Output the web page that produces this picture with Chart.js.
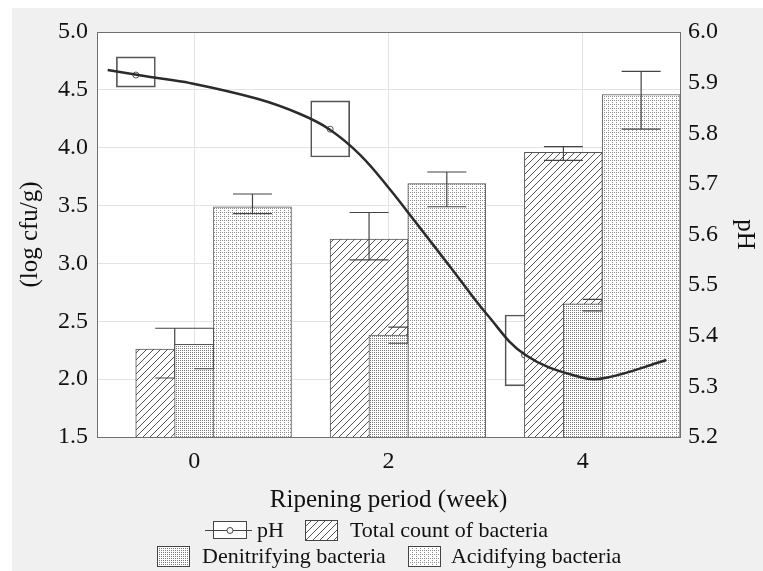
<!DOCTYPE html>
<html>
<head>
<meta charset="utf-8">
<script src="https://cdn.jsdelivr.net/npm/chart.js@4.4.0/dist/chart.umd.min.js"></script>
<style>
  html, body { margin: 0; padding: 0; background: #fff; }
  body { width: 763px; height: 571px; position: relative; overflow: hidden;
         font-family: "Liberation Serif", "Times New Roman", serif; }
  #panel { position: absolute; left: 12px; top: 8px; width: 751px; height: 563px; background: #f0f0f0; }
  #chart { position: absolute; left: 0; top: 0; }
  .legend-row { position: absolute; height: 26px; display: flex; align-items: center;
                font-size: 22px; color: #111; white-space: nowrap; }
  .legend-row canvas { display: block; }
</style>
</head>
<body>
<div id="panel">
  <canvas id="chart" width="751" height="510"></canvas>
  <div class="legend-row" style="left:193px; top:509px">
    <canvas id="swPh" width="47" height="20"></canvas><span style="margin-left:5px">pH</span>
    <canvas id="swTotal" width="33" height="21" style="margin-left:21px"></canvas><span style="margin-left:12px">Total count of bacteria</span>
  </div>
  <div class="legend-row" style="left:145px; top:535px">
    <canvas id="swDenit" width="33" height="21"></canvas><span style="margin-left:12px">Denitrifying bacteria</span>
    <canvas id="swAcid" width="33" height="21" style="margin-left:22px"></canvas><span style="margin-left:10px">Acidifying bacteria</span>
  </div>
</div>
<script>
// ripening weeks
const weeks = [0, 2, 4];

// bacteria counts (log cfu/g) with error bar ends
const totalCount = [2.26, 3.21, 3.96];
const totalUpper = [2.44, 3.44, 4.01];
const totalLower = [2.01, 3.03, 3.89];

const denitrifying = [2.30, 2.38, 2.65];
const denitUpper = [2.44, 2.45, 2.69];
const denitLower = [2.09, 2.31, 2.59];

const acidifying = [3.49, 3.69, 4.46];
const acidUpper = [3.60, 3.79, 4.66];
const acidLower = [3.43, 3.49, 4.16];

// pH means and box ends
const phMean = [5.915, 5.808, 5.362];
const phUpper = [5.951, 5.864, 5.441];
const phLower = [5.891, 5.753, 5.301];

// fitted pH curve
const curveWeek = [-0.89, -0.45, -0.04, 0.65, 1.09, 1.39, 1.71, 2.02, 2.26, 2.66, 3.01, 3.41, 3.98, 4.24, 4.86];
const curvePH = [5.925, 5.911, 5.899, 5.868, 5.838, 5.808, 5.757, 5.688, 5.629, 5.530, 5.443, 5.362, 5.318, 5.317, 5.352];

// tick labels
const countTicks = [1.5, 2.0, 2.5, 3.0, 3.5, 4.0, 4.5, 5.0];
const phTicks = [5.2, 5.3, 5.4, 5.5, 5.6, 5.7, 5.8, 5.9, 6.0];

// where each series sits inside a week group
const shift = { ph: -0.6, total: -0.2, denit: 0.2, acid: 0.6 };

const FONT = '"Liberation Serif", "Times New Roman", serif';
const FRAME = '#707070';
const GRID = '#e3e3e3';

function makeTile(w, h, draw) {
  const c = document.createElement('canvas');
  c.width = w; c.height = h;
  const g = c.getContext('2d');
  g.fillStyle = '#fff';
  g.fillRect(0, 0, w, h);
  draw(g);
  return c;
}

const hatchTile = makeTile(7, 7, g => {
  g.strokeStyle = '#555';
  g.lineWidth = 1;
  g.beginPath();
  g.moveTo(-1, 8); g.lineTo(8, -1);
  g.moveTo(-1, 1); g.lineTo(1, -1);
  g.moveTo(6, 8); g.lineTo(8, 6);
  g.stroke();
});
const stippleTile = makeTile(2, 2, g => {
  g.fillStyle = '#7a7a7a';
  g.fillRect(0, 0, 1, 1);
});
const dotGridTile = makeTile(4, 4, g => {
  g.fillStyle = '#8c8c8c';
  g.fillRect(0, 0, 1, 1);
  g.fillRect(2, 0, 1, 1);
  g.fillRect(0, 2, 1, 1);
});

const ctx = document.getElementById('chart').getContext('2d');
const hatch = ctx.createPattern(hatchTile, 'repeat');
const stipple = ctx.createPattern(stippleTile, 'repeat');
const dotGrid = ctx.createPattern(dotGridTile, 'repeat');

const plotBackground = {
  id: 'plotBackground',
  beforeDraw(chart) {
    const { ctx, chartArea: a } = chart;
    ctx.save();
    ctx.fillStyle = '#fff';
    ctx.fillRect(a.left, a.top, a.right - a.left, a.bottom - a.top);
    ctx.restore();
  }
};

const errorBars = {
  id: 'errorBars',
  afterDatasetDraw(chart, args) {
    const ds = chart.data.datasets[args.index];
    if (!ds.errUpper) return;
    const y = chart.scales[ds.yAxisID];
    const c = chart.ctx;
    c.save();
    c.strokeStyle = '#444';
    c.lineWidth = 1.2;
    args.meta.data.forEach((bar, i) => {
      const top = y.getPixelForValue(ds.errUpper[i]);
      const bot = y.getPixelForValue(ds.errLower[i]);
      const half = bar.width / 4;
      c.beginPath();
      c.moveTo(bar.x, top); c.lineTo(bar.x, bot);
      c.moveTo(bar.x - half, top); c.lineTo(bar.x + half, top);
      c.moveTo(bar.x - half, bot); c.lineTo(bar.x + half, bot);
      c.stroke();
    });
    c.restore();
  }
};

function barSet(label, values, upper, lower, off, fill, order) {
  return {
    type: 'bar', label,
    data: weeks.map((w, i) => ({ x: w + off, y: values[i] })),
    errUpper: upper, errLower: lower,
    xAxisID: 'x', yAxisID: 'y',
    backgroundColor: fill, borderColor: '#555', borderWidth: 1, borderSkipped: false,
    barThickness: 78, grouped: false, order
  };
}

new Chart(ctx, {
  type: 'bar',
  data: {
    datasets: [
      {
        type: 'line', label: 'pH fit',
        data: curveWeek.map((w, i) => ({ x: w, y: curvePH[i] })),
        xAxisID: 'x', yAxisID: 'y2',
        borderColor: '#2b2b2b', borderWidth: 2.5, pointRadius: 0,
        tension: 0.4, fill: false, order: 0
      },
      barSet('Acidifying bacteria', acidifying, acidUpper, acidLower, shift.acid, dotGrid, 1),
      barSet('Denitrifying bacteria', denitrifying, denitUpper, denitLower, shift.denit, stipple, 2),
      barSet('Total count of bacteria', totalCount, totalUpper, totalLower, shift.total, hatch, 3),
      {
        type: 'line', label: 'pH',
        data: weeks.map((w, i) => ({ x: w + shift.ph, y: phMean[i] })),
        xAxisID: 'x', yAxisID: 'y2', showLine: false,
        pointRadius: 3, pointBackgroundColor: 'rgba(0,0,0,0)',
        pointBorderColor: '#555', pointBorderWidth: 1, order: 4
      },
      {
        type: 'bar', label: 'pH range',
        data: weeks.map((w, i) => ({ x: w + shift.ph, y: [phLower[i], phUpper[i]] })),
        xAxisID: 'x', yAxisID: 'y2',
        backgroundColor: 'rgba(0,0,0,0)', borderColor: '#555', borderWidth: 1,
        borderSkipped: false, barThickness: 39, grouped: false, order: 5
      }
    ]
  },
  options: {
    responsive: false,
    animation: false,
    layout: { padding: { top: 24, left: 0, right: 0, bottom: 0 } },
    plugins: { legend: { display: false }, tooltip: { enabled: false } },
    scales: {
      x: {
        type: 'linear', position: 'bottom', min: -1, max: 5, offset: false,
        afterBuildTicks: s => { s.ticks = weeks.map(v => ({ value: v })); },
        afterFit: s => { s.height = 81; },
        grid: { color: GRID, drawTicks: false, offset: false },
        border: { color: FRAME, width: 1 },
        ticks: { padding: 10, color: '#111', font: { family: FONT, size: 24 }, callback: v => String(v) },
        title: { display: true, text: 'Ripening period (week)', color: '#111',
                 font: { family: FONT, size: 25 }, padding: { top: 0, bottom: 3 } }
      },
      xTop: {
        type: 'linear', position: 'top', min: -1, max: 5, offset: false,
        afterFit: s => { s.height = 0; },
        grid: { display: false, drawTicks: false },
        border: { color: FRAME, width: 1 },
        ticks: { display: false }
      },
      y: {
        position: 'left', min: 1.5, max: 5,
        afterBuildTicks: s => { s.ticks = countTicks.map(v => ({ value: v })); },
        afterFit: s => { s.width = 85; },
        grid: { color: GRID, drawTicks: false },
        border: { color: FRAME, width: 1 },
        ticks: { padding: 9, color: '#111', font: { family: FONT, size: 24 }, callback: v => v.toFixed(1) },
        title: { display: true, text: '(log cfu/g)', color: '#111',
                 font: { family: FONT, size: 25 }, padding: { top: 3, bottom: 0 } }
      },
      y2: {
        position: 'right', min: 5.2, max: 6.0,
        afterBuildTicks: s => { s.ticks = phTicks.map(v => ({ value: v })); },
        afterFit: s => { s.width = 83; },
        grid: { display: false, drawTicks: false },
        border: { color: FRAME, width: 1 },
        ticks: { padding: 8, color: '#111', font: { family: FONT, size: 24 }, callback: v => v.toFixed(1) },
        title: { display: true, text: 'pH', color: '#111',
                 font: { family: FONT, size: 25 }, padding: { top: 3, bottom: 0 } }
      }
    }
  },
  plugins: [plotBackground, errorBars]
});

// legend swatches
function swatchBox(id, tile) {
  const c = document.getElementById(id);
  const g = c.getContext('2d');
  g.fillStyle = g.createPattern(tile, 'repeat');
  g.fillRect(0, 0, c.width, c.height);
  g.strokeStyle = '#444';
  g.lineWidth = 1;
  g.strokeRect(0.5, 0.5, c.width - 1, c.height - 1);
}
swatchBox('swTotal', hatchTile);
swatchBox('swDenit', stippleTile);
swatchBox('swAcid', dotGridTile);

(function () {
  const c = document.getElementById('swPh');
  const g = c.getContext('2d');
  g.fillStyle = '#fff';
  g.fillRect(8, 1, 34, 18);
  g.strokeStyle = '#444';
  g.lineWidth = 1;
  g.strokeRect(8.5, 1.5, 33, 17);
  g.beginPath();
  g.moveTo(0, 10.5); g.lineTo(47, 10.5);
  g.stroke();
  g.beginPath();
  g.arc(25, 10.5, 3, 0, Math.PI * 2);
  g.fillStyle = '#fff';
  g.fill();
  g.stroke();
})();
</script>
</body>
</html>
